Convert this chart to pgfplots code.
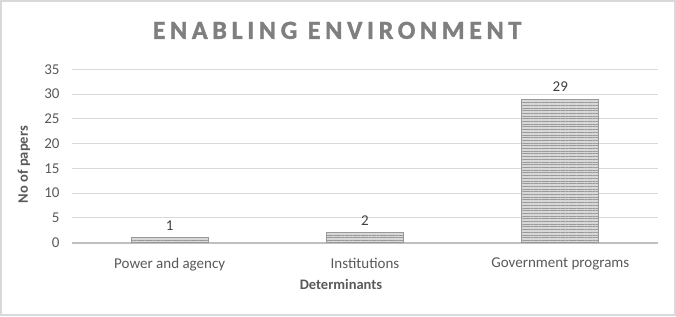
\documentclass[border=0pt]{standalone}
\usepackage{fontspec}
\setmainfont{Carlito}
\newfontfamily\titlefont[LetterSpace=18, BoldFeatures={FakeBold=1.5}]{Carlito}
\usepackage{pgfplots}
\pgfplotsset{compat=1.18}
\usetikzlibrary{patterns.meta}
\definecolor{titlegray}{HTML}{7F7F7F}
\definecolor{labgray}{HTML}{595959}
\definecolor{gridgray}{HTML}{D9D9D9}
\definecolor{axgray}{HTML}{BFBFBF}
\definecolor{barline}{HTML}{999999}
\definecolor{barfill}{HTML}{D8D8D8}
\begin{document}
\begin{tikzpicture}[x=1pt,y=1pt]
\path[use as bounding box] (0,0) rectangle (676,316);
\draw[gridgray, line width=1.5pt] (1,1) rectangle (675,315);
\node[text=titlegray, font=\titlefont\bfseries\fontsize{26}{29}\selectfont] at (337,285.6) {ENABLING ENVIRONMENT};
\begin{axis}[
  at={(72pt,73.3pt)}, anchor=south west,
  scale only axis, width=586pt, height=173.4pt,
  xmin=-0.5, xmax=2.5, ymin=0, ymax=35,
  xtick={0,1,2},
  xticklabels={Power and agency, Institutions, Government programs},
  ytick={0,5,...,35},
  axis line style={draw=none},
  major tick length=0pt,
  ymajorgrids, grid style={gridgray, line width=1pt},
  extra y ticks={0}, extra y tick labels={},
  extra y tick style={grid style={axgray, line width=2pt}},
  /pgf/number format/assume math mode=true,
  tick label style={font=\fontsize{15}{17}\selectfont, text=labgray},
  yticklabel style={xshift=-9pt},
  xticklabel style={yshift=-12pt},
  xlabel={Determinants},
  ylabel={No of papers},
  label style={font=\fontsize{14.5}{16}\selectfont\bfseries, text=labgray},
  xlabel style={at={(axis description cs:0.459,-0.238)}, anchor=center},
  ylabel style={at={(axis description cs:-0.082,0.45)}, anchor=center, rotate=0},
  ybar, bar width=77pt,
  nodes near coords,
  nodes near coords style={font=\fontsize{15}{17}\selectfont, text=black!75, yshift=4pt},
]
\addplot[draw=barline, fill=barfill, line width=0.8pt,
  postaction={pattern={Lines[angle=0, distance=2.7pt, line width=1pt]}, pattern color=barline}]
  coordinates {(0,1) (1,2) (2,29)};
\end{axis}
\end{tikzpicture}
\end{document}
